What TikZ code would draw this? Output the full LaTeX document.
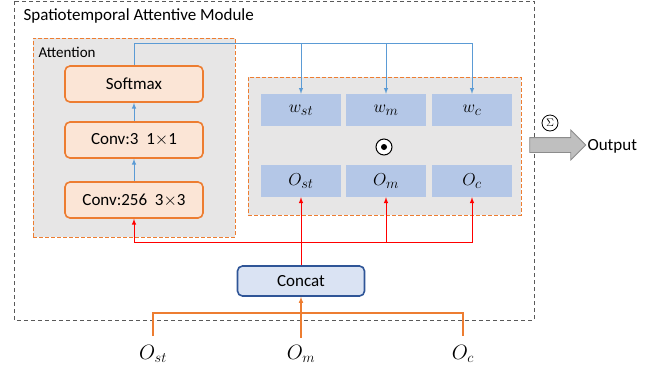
\documentclass[tikz,border=0pt]{standalone}
\usepackage{fontspec}
\setmainfont{Carlito}
\usepackage{amsmath}
\usetikzlibrary{arrows,shapes}
\usetikzlibrary{positioning,fit}
\definecolor{borange}{RGB}{237,125,49}
\definecolor{forange}{RGB}{251,229,214}
\definecolor{bgray}{RGB}{231,230,230}
\definecolor{cellblue}{RGB}{180,199,231}
\definecolor{lineblue}{RGB}{91,155,213}
\definecolor{catblue}{RGB}{47,85,151}
\definecolor{catfill}{RGB}{218,227,243}
\tikzstyle{layer}=[draw=borange, fill=forange, line width=1.6pt, rounded corners=5pt, minimum width=138pt, minimum height=36pt, font=\fontsize{17}{20}\selectfont]
\tikzstyle{cell}=[fill=cellblue, minimum width=80pt, minimum height=32pt, font=\fontsize{19}{21}\selectfont]
\tikzstyle{dbox}=[draw=borange, fill=bgray, dash pattern=on 4pt off 2pt, line width=0.9pt]
\tikzstyle{barrow}=[draw=lineblue, -latex, line width=1pt]
\tikzstyle{rarrow}=[draw=red, -latex, line width=1pt]
\tikzstyle{oline}=[draw=borange, line width=1.1pt]
\tikzstyle{olabel}=[font=\fontsize{21}{23}\selectfont, inner sep=1pt]

\begin{document}
\begin{tikzpicture}[x=1pt,y=-1pt]
\useasboundingbox (0,0) rectangle (662,376);
\draw[dash pattern=on 4pt off 3pt, draw=black!65, line width=0.8pt] (14,1) rectangle (534,320);
\node [anchor=west, font=\fontsize{17}{20}\selectfont] (title) at (20,16) {Spatiotemporal Attentive Module};

% attention branch
\node [dbox, minimum width=202pt, minimum height=199pt] (att) at (134,137.5) {};
\node [anchor=west, font=\fontsize{15}{18}\selectfont] (attl) at (35,52) {Attention};
\node [layer] (sm) at (134,84) {Softmax};
\node [layer] (c1) at (134,140) {Conv:3\ \ 1$\times$1};
\node [layer] (c3) at (134,200) {Conv:256\ \ 3$\times$3};
\draw[barrow] (c3.north) -- (c1.south);
\draw[barrow] (c1.north) -- (sm.south);

% weighting
\node [dbox, minimum width=273pt, minimum height=138pt] (wbox) at (384.5,146) {};
\node [cell] (ws) at (301,110) {$w_{st}$};
\node [cell] (wm) at (386,110) {$w_m$};
\node [cell] (wc) at (472,110) {$w_c$};
\node [cell] (os) at (301,181) {$O_{st}$};
\node [cell] (om) at (386,181) {$O_m$};
\node [cell] (oc) at (472,181) {$O_c$};
\node [circle, draw, fill=white, line width=1pt, minimum size=16pt, inner sep=0pt] (dot) at (384,147) {};
\fill (dot) circle (3pt);

\coordinate (top) at (0,43);
\draw[barrow] (sm.north) -- (sm.north |- top) -| (wc.north);
\draw[barrow] (ws.north |- top) -- (ws.north);
\draw[barrow] (wm.north |- top) -- (wm.north);

% concat
\node [draw=catblue, fill=catfill, line width=1.6pt, rounded corners=5pt, minimum width=127pt, minimum height=30pt, font=\fontsize{17}{20}\selectfont] (cat) at (301,281) {Concat};
\coordinate (rj) at (0,242);
\draw[rarrow] (cat.north) -- (os.south);
\draw[rarrow] (cat.north |- rj) -| (c3.south);
\draw[rarrow] (cat.north |- rj) -| (oc.south);
\draw[rarrow] (om.south |- rj) -- (om.south);

% inputs
\node [olabel] (ist) at (153,354) {$O_{st}$};
\node [olabel] (im) at (301,354) {$O_m$};
\node [olabel] (ic) at (463,354) {$O_c$};
\coordinate (bj) at (0,313);
\draw[oline] ([yshift=8pt]ist.north) -- (ist.north |- bj) -| ([yshift=8pt]ic.north);
\draw[oline, -latex] ([yshift=6pt]im.north) -- (cat.south);

% output
\node [single arrow, draw=black!45, fill=black!25, line width=0.8pt, minimum height=56pt, inner xsep=0pt, inner ysep=7pt, single arrow head extend=7.5pt] (out) at (554,145) {};
\node [circle, draw, line width=0.8pt, inner sep=1pt, minimum size=16pt, font=\fontsize{11}{12}\selectfont] (sig) at (550,123) {$\Sigma$};
\node [anchor=west, font=\fontsize{17}{20}\selectfont] (outl) at (584,146) {Output};
\end{tikzpicture}
\end{document}
